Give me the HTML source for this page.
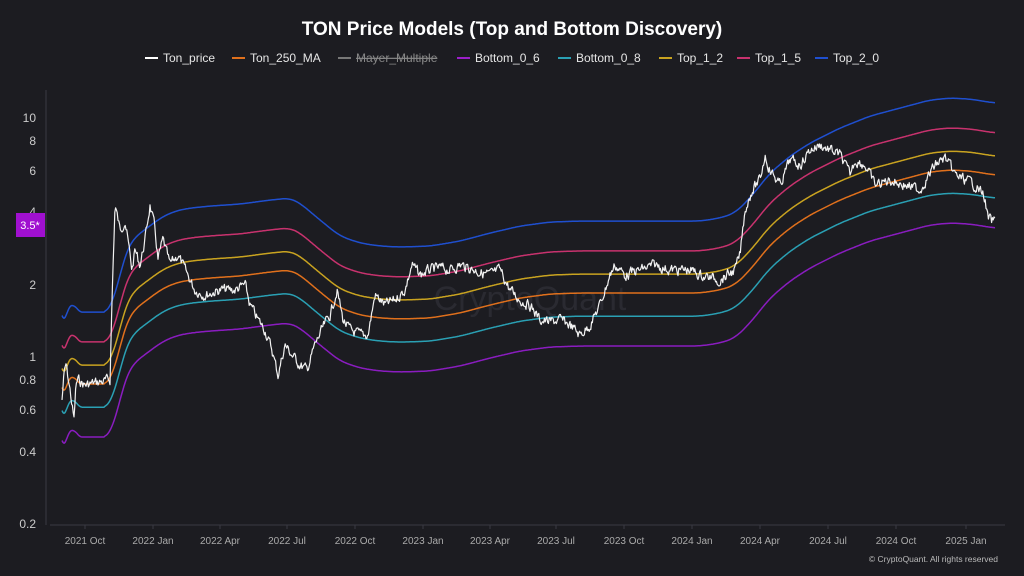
<!DOCTYPE html>
<html><head><meta charset="utf-8"><style>
body{margin:0;background:#1c1c21;width:1024px;height:576px;overflow:hidden;font-family:"Liberation Sans",sans-serif}
svg{display:block}
</style></head><body>
<svg id="s" width="1024" height="576" xmlns="http://www.w3.org/2000/svg">
<rect width="1024" height="576" fill="#1c1c21"/>
<text x="512" y="35" fill="#fff" font-size="19" font-weight="bold" text-anchor="middle">TON Price Models (Top and Bottom Discovery)</text>
<g font-size="12" fill="#e6e6e6">
<line x1="145" y1="58" x2="158" y2="58" stroke="#fff" stroke-width="2"/><text x="163" y="62">Ton_price</text>
<line x1="232" y1="58" x2="245" y2="58" stroke="#e0701c" stroke-width="2"/><text x="250" y="62">Ton_250_MA</text>
<line x1="338" y1="58" x2="351" y2="58" stroke="#777" stroke-width="2"/><text x="356" y="62" fill="#888" text-decoration="line-through">Mayer_Multiple</text>
<line x1="457" y1="58" x2="470" y2="58" stroke="#9b1fc8" stroke-width="2"/><text x="475" y="62">Bottom_0_6</text>
<line x1="558" y1="58" x2="571" y2="58" stroke="#2aa0b4" stroke-width="2"/><text x="576" y="62">Bottom_0_8</text>
<line x1="659" y1="58" x2="672" y2="58" stroke="#c9a320" stroke-width="2"/><text x="677" y="62">Top_1_2</text>
<line x1="737" y1="58" x2="750" y2="58" stroke="#c8326e" stroke-width="2"/><text x="755" y="62">Top_1_5</text>
<line x1="815" y1="58" x2="828" y2="58" stroke="#1f4fcf" stroke-width="2"/><text x="833" y="62">Top_2_0</text>
</g>
<line x1="46" y1="90" x2="46" y2="525" stroke="#3a3a42"/>
<line x1="50" y1="525" x2="1005" y2="525" stroke="#3a3a42"/>
<text x="530" y="310" fill="#2a2a31" font-size="34" text-anchor="middle">CryptoQuant</text>
<g font-size="12" fill="#ccc" text-anchor="end">
<text x="36" y="122">10</text><text x="36" y="145">8</text><text x="36" y="175">6</text><text x="36" y="216">4</text>
<text x="36" y="289">2</text><text x="36" y="361">1</text><text x="36" y="384">0.8</text><text x="36" y="414">0.6</text>
<text x="36" y="456">0.4</text><text x="36" y="528">0.2</text>
</g>
<rect x="16" y="213" width="29" height="24" fill="#a010d0"/>
<text x="30" y="229" fill="#fff" font-size="11" text-anchor="middle">3.5*</text>
<g font-size="10" fill="#aaa" text-anchor="middle" id="xl"></g>
<g id="lines" fill="none" stroke-linejoin="round"></g>
<text x="998" y="562" fill="#bbb" font-size="8.5" text-anchor="end">© CryptoQuant. All rights reserved</text>
</svg>
<script>
var NS="http://www.w3.org/2000/svg";
var labs=[[85,"2021 Oct"],[153,"2022 Jan"],[220,"2022 Apr"],[287,"2022 Jul"],[355,"2022 Oct"],[423,"2023 Jan"],[490,"2023 Apr"],[556,"2023 Jul"],[624,"2023 Oct"],[692,"2024 Jan"],[760,"2024 Apr"],[828,"2024 Jul"],[896,"2024 Oct"],[966,"2025 Jan"]];
var xl=document.getElementById("xl");
labs.forEach(function(l){var t=document.createElementNS(NS,"text");t.setAttribute("x",l[0]);t.setAttribute("y",544);t.textContent=l[1];xl.appendChild(t);
var k=document.createElementNS(NS,"line");k.setAttribute("x1",l[0]);k.setAttribute("x2",l[0]);k.setAttribute("y1",525);k.setAttribute("y2",529);k.setAttribute("stroke","#3a3a42");xl.appendChild(k);});
function interp(a,x){for(var i=0;i<a.length-1;i++){if(x<=a[i+1][0]){var t=(x-a[i][0])/(a[i+1][0]-a[i][0]);return a[i][1]+(a[i+1][1]-a[i][1])*t;}}return a[a.length-1][1];}
var ma=[[60,380],[63,393],[66,388],[70,377],[75,378],[80,384],[110,384],[115,370],[120,345],[125,325],[132,312],[140,305],[150,298],[160,290],[175,283],[190,280],[210,278],[240,276],[270,272],[290,270],[300,275],[320,292],[340,308],[360,315],[380,318],[400,319],[430,318],[460,313],[490,305],[520,298],[550,294],[580,293],[650,293],[700,293],[720,290],[735,285],[750,270],[770,245],[790,228],[810,215],[840,200],[870,188],[900,180],[930,172],[950,170],[970,171],[995,175]];
var raw=[],sm=[];for(var x=50;x<=1007;x++)raw.push(interp(ma,x));
for(var x=62;x<=995;x++){var i=x-50,w=x<105?2:8,s=0,n=0;for(var j=i-w;j<=i+w;j++){if(j>=0&&j<raw.length){s+=raw[j];n++;}}sm.push([x,s/n]);}
var g=document.getElementById("lines");
function add(d,c,w){var p=document.createElementNS(NS,"path");p.setAttribute("d",d);p.setAttribute("stroke",c);p.setAttribute("stroke-width",w);g.appendChild(p);}
var bands=[[0.6,"#8a1cc0"],[0.8,"#2aa0b4"],[1,"#e0701c"],[1.2,"#c9a320"],[1.5,"#c8326e"],[2,"#1f4fcf"]];
bands.forEach(function(b){var off=239*Math.log10(b[0]);var d="";sm.forEach(function(p,k){d+=(k==0?"M":"L")+p[0]+","+(p[1]-off).toFixed(1);});add(d,b[1],1.5);});
var pr=[[62,400],[64,375],[66,365],[70,390],[74,420],[76,385],[78,380],[85,385],[110,380],[112,300],[115,205],[120,230],[125,220],[132,270],[135,250],[140,265],[145,240],[150,205],[155,230],[158,260],[163,240],[170,265],[178,255],[185,270],[195,290],[205,295],[220,290],[235,290],[245,285],[250,305],[258,320],[265,330],[272,350],[278,375],[285,345],[292,355],[300,365],[307,370],[315,345],[322,330],[330,315],[337,290],[343,320],[350,330],[360,335],[368,335],[375,295],[385,305],[395,300],[405,290],[412,265],[420,275],[430,270],[440,268],[450,270],[460,265],[470,268],[480,272],[490,275],[500,270],[510,290],[520,300],[530,305],[540,320],[550,322],[560,320],[570,325],[580,335],[590,325],[600,305],[610,275],[615,265],[625,275],[640,270],[655,265],[670,270],[690,270],[700,275],[720,280],[735,270],[740,255],[745,210],[752,190],[760,180],[765,155],[770,170],[780,185],[790,160],[800,165],[810,150],[820,145],[830,150],[840,155],[850,175],[855,160],[865,165],[875,185],[890,180],[905,185],[920,190],[935,165],[945,158],[955,175],[965,180],[975,185],[984,195],[988,218],[992,222],[995,220]];
var seed=7;function rnd(){seed=(seed*9301+49297)%233280;return seed/233280;}
var d="",nz=0;for(var x=62;x<=995;x+=0.8){nz=nz*0.5+(rnd()-0.5)*9;var y=interp(pr,x)+nz;d+=(x==62?"M":"L")+x.toFixed(1)+","+y.toFixed(1);}
add(d,"#f2f2f2",1.2);
</script>
</body></html>
